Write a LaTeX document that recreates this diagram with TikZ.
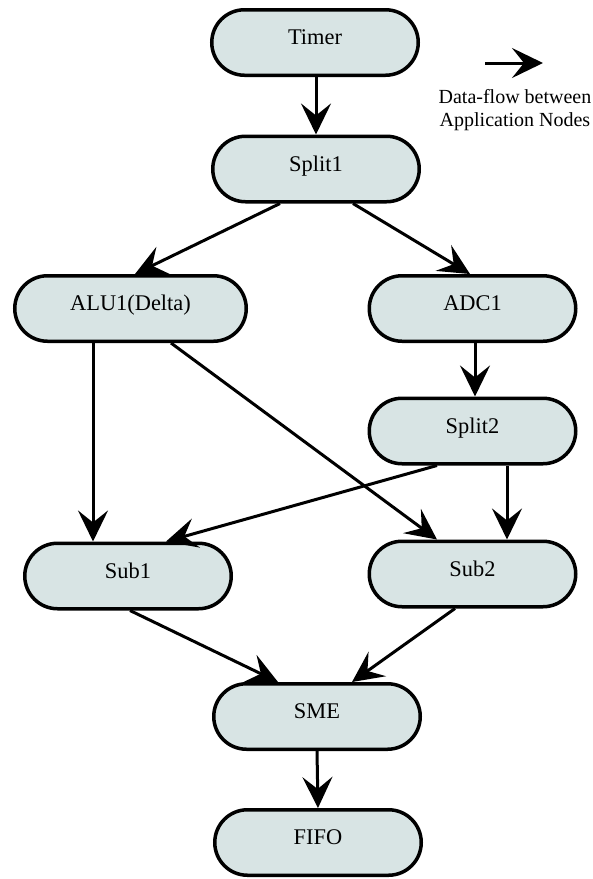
\documentclass[tikz,border=0pt]{standalone}
\usepackage{fontspec}
\setmainfont{Liberation Serif}
\newfontfamily\diagfont{Liberation Serif}
\usetikzlibrary{arrows.meta,shapes.misc,calc}
\definecolor{nodefill}{RGB}{216,228,228}
\begin{document}
\begin{tikzpicture}[x=0.5pt,y=-0.5pt,
  appnode/.style={rounded rectangle, draw=black, line width=1.75pt, fill=nodefill,
    minimum width=103.25pt, minimum height=32.75pt, inner sep=0pt,
    font=\diagfont\fontsize{11.2}{13}\selectfont, text height=7.4pt, text depth=5pt},
  flow/.style={line width=1.5pt, -{Stealth[length=15.5pt,width=15pt,inset=6pt]}},
  legendtext/.style={align=center, inner sep=0pt, font=\diagfont\fontsize{10}{11.5}\selectfont},
]
\useasboundingbox (0,0) rectangle (593,879);

% application nodes
\node[appnode] (timer)  at (315,42.5)  {Timer};
\node[appnode] (split1) at (316,169)   {Split1};
\node[appnode, minimum width=115.75pt] (alu1) at (130.5,308.5) {ALU1(Delta)};
\node[appnode] (adc1)   at (472.5,308.5) {ADC1};
\node[appnode] (split2) at (472.5,431)   {Split2};
\node[appnode] (sub1)   at (128,576)     {Sub1};
\node[appnode] (sub2)   at (472.5,574)   {Sub2};
\node[appnode] (sme)    at (317,716.5)   {SME};
\node[appnode] (fifo)   at (318,842.5)   {FIFO};

% data-flow connectors
\draw[flow] ($(timer.south)+(1,0)$) -- (split1.north);
\draw[flow] ($(split1.south)+(-36,0)$) -- ($(alu1.north)+(4.5,0)$);
\draw[flow] ($(split1.south)+(37,0)$) -- ($(adc1.north)+(-2.5,0)$);
\draw[flow] ($(alu1.south)+(-37.5,0)$) -- ($(sub1.north)+(-35,0)$);
\draw[flow] ($(alu1.south)+(40.5,0)$) -- ($(sub2.north)+(-35.5,0)$);
\draw[flow] ($(adc1.south)+(2.5,0)$) -- ($(split2.north)+(2.5,0)$);
\draw[flow] ($(split2.south)+(-35.5,0)$) -- ($(sub1.north)+(38,0)$);
\draw[flow] ($(split2.south)+(34.5,0)$) -- ($(sub2.north)+(34.5,0)$);
\draw[flow] ($(sub1.south)+(2,0)$) -- ($(sme.north)+(-39,0)$);
\draw[flow] ($(sub2.south)+(-17.5,0)$) -- ($(sme.north)+(35,0)$);
\draw[flow] (sme.south) -- (fifo.north);

% legend
\coordinate (legA) at (485,63);
\coordinate (legB) at (543,63);
\draw[flow] (legA) -- (legB);
\node[legendtext] (legtext) at (515,110) {Data-flow between\\Application Nodes};
\end{tikzpicture}
\end{document}
